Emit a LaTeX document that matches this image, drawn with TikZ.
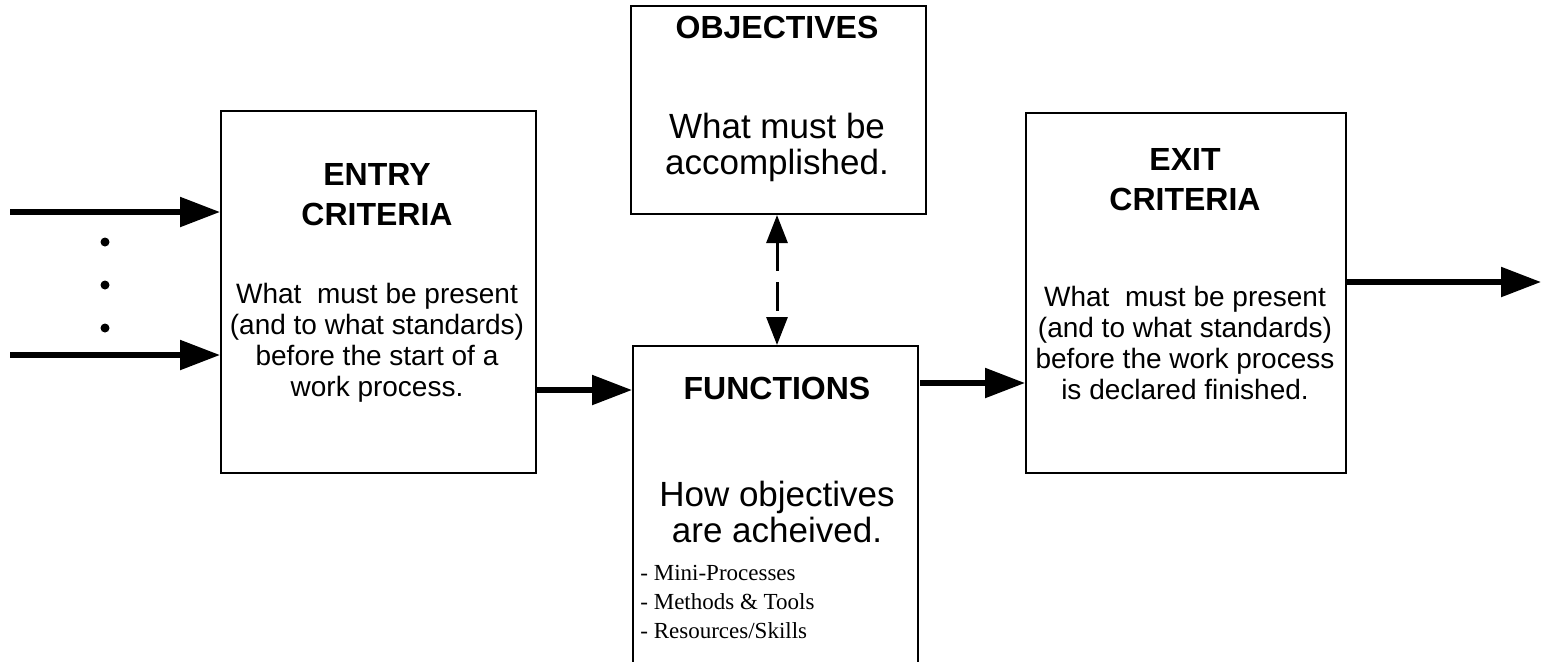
\documentclass[tikz,border=0pt]{standalone}
\usepackage{fontspec}
\setmainfont{Liberation Sans}
\newfontfamily\listfont{Liberation Serif}
\usetikzlibrary{arrows.meta}

\begin{document}
\begin{tikzpicture}[x=0.5pt,y=-0.5pt,
  box/.style={draw, line width=1pt, anchor=north west, inner sep=0pt},
  title/.style={inner sep=0pt, align=center, font=\bfseries\fontsize{16}{20}\selectfont},
  body/.style={inner sep=0pt, align=center, font=\fontsize{14}{15.5}\selectfont},
  bigbody/.style={inner sep=0pt, align=center, font=\fontsize{17.5}{18}\selectfont},
  flow/.style={line width=2.7pt, -{Triangle[length=20pt,width=14.5pt]}},
  link/.style={line width=1.5pt, dash pattern=on 14.5pt off 5.5pt,
    {Triangle[length=14pt,width=10.5pt]}-{Triangle[length=14pt,width=10.5pt]}},
  dot/.style={circle, fill, inner sep=0pt, minimum size=4.5pt}]

\useasboundingbox (0,0) rectangle (1541,661);
\clip (0,0) rectangle (1541,661);

% boxes
\node[box, minimum width=157.5pt, minimum height=181pt] (entry) at (220,110) {};
\node[box, minimum width=147.5pt, minimum height=104pt] (obj) at (630,5) {};
\node[box, minimum width=142.5pt, minimum height=162pt] (func) at (632,345) {};
\node[box, minimum width=160pt, minimum height=180pt] (exit) at (1025,112) {};

% entry criteria
\node[title] (entryT) at (377,195) {ENTRY\\CRITERIA};
\node[body] (entryB) at (377,343) {What\ \ must be present\\(and to what standards)\\before the start of a\\work process.};

% objectives
\node[title] (objT) at (777,27) {OBJECTIVES};
\node[bigbody] (objB) at (777,147) {What must be\\accomplished.};

% functions
\node[title] (funcT) at (777,388) {FUNCTIONS};
\node[bigbody] (funcB) at (777,512) {How objectives\\are acheived.};
\node[inner sep=0pt, anchor=west, align=left, font=\listfont\fontsize{11.5}{14.5}\selectfont]
  (funcL) at (640,602) {- Mini-Processes\\- Methods \& Tools\\- Resources/Skills};

% exit criteria
\node[title] (exitT) at (1185,180) {EXIT\\CRITERIA};
\node[body] (exitB) at (1185,343) {What\ \ must be present\\(and to what standards)\\before the work process\\is declared finished.};

% inputs
\coordinate (in1) at (10,212);
\coordinate (in2) at (10,355);
\coordinate (out) at (1541,282);
\draw[flow] (in1) -- (in1 -| entry.west);
\draw[flow] (in2) -- (in2 -| entry.west);
\node[dot] (d1) at (105,242) {};
\node[dot] (d2) at (105,285) {};
\node[dot] (d3) at (105,328) {};

% flow between boxes
\coordinate (e2f) at (535,390);
\draw[flow] (e2f) -- (e2f -| func.west);
\coordinate (f2x) at (920,383);
\draw[flow] (f2x) -- (f2x -| exit.west);
\draw[flow] (out -| exit.east) -- (out);

% objectives <-> functions
\draw[link] (obj.south -| 777,0) -- (func.north -| 777,0);
\end{tikzpicture}
\end{document}
